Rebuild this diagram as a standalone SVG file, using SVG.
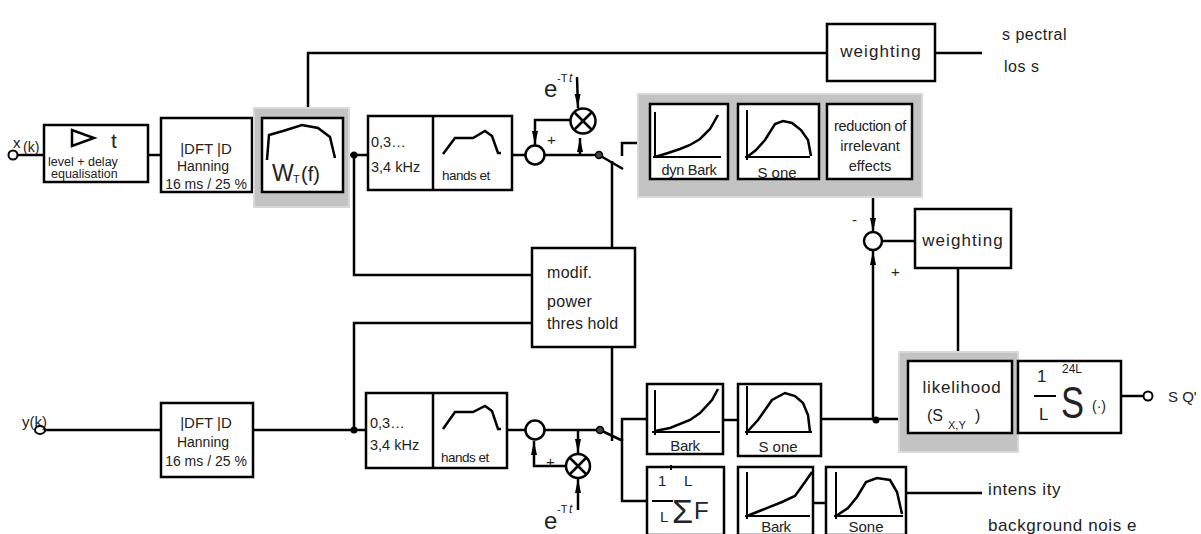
<svg xmlns="http://www.w3.org/2000/svg" width="1201" height="534" viewBox="0 0 1201 534" font-size="13">
<style>
.b{fill:#fff;stroke:#000;stroke-width:2.5}
.l{fill:none;stroke:#000;stroke-width:2.5}
.c{fill:none;stroke:#000;stroke-width:2}
.g{fill:#c3c3c3;stroke:#d8d8d8;stroke-width:2}
text{font-family:"Liberation Sans",Arial,sans-serif;fill:#222}
.m{text-anchor:middle}
.w{font-size:17px;letter-spacing:1.1px}
</style>
<defs>
<marker id="ar" markerUnits="userSpaceOnUse" markerWidth="15" markerHeight="8" refX="14" refY="4" orient="auto">
<path d="M0,1 L14,4 L0,7 z" fill="#000"/>
</marker>
</defs>
<rect width="1201" height="534" fill="#fff"/>

<g id="connectors">
<line class="l" x1="18" y1="155" x2="44" y2="155"/>
<line class="l" x1="148" y1="155" x2="161" y2="155"/>
<line class="l" x1="252" y1="155" x2="262" y2="155"/>
<line class="l" x1="343" y1="155" x2="368" y2="155"/>
<polyline class="l" points="308,118 308,53 827,53"/>
<line class="l" x1="935" y1="53" x2="982" y2="53"/>
<polyline class="l" points="354,155 354,275 532,275"/>
<line class="l" x1="512" y1="155" x2="525" y2="155"/>
<line class="l" x1="545" y1="155" x2="599" y2="155"/>
<line class="l" x1="577" y1="77" x2="578" y2="108" marker-end="url(#ar)"/>
<polyline class="l" points="570,120 535,120 535,145" marker-end="url(#ar)"/>
<line class="l" x1="580" y1="155" x2="580" y2="138" marker-end="url(#ar)"/>
<line class="l" x1="599" y1="155" x2="623" y2="169"/>
<line class="l" x1="612" y1="161" x2="612" y2="248"/>
<polyline class="l" points="622,156 622,143 650,143"/>
<line class="l" x1="728" y1="142" x2="738" y2="142"/>
<line class="l" x1="819" y1="142" x2="827" y2="142"/>
<line class="l" x1="873" y1="179" x2="873" y2="232" marker-end="url(#ar)"/>
<line class="l" x1="882" y1="241" x2="915" y2="241"/>
<line class="l" x1="958" y1="268" x2="958" y2="361"/>
<line class="l" x1="45" y1="430" x2="161" y2="430"/>
<line class="l" x1="253" y1="430" x2="366" y2="430"/>
<polyline class="l" points="354,430 354,323 532,323"/>
<line class="l" x1="507" y1="430" x2="525" y2="430"/>
<line class="l" x1="545" y1="430" x2="600" y2="430"/>
<line class="l" x1="578" y1="431" x2="578" y2="453" marker-end="url(#ar)"/>
<polyline class="l" points="566,466 534,466 534,441" marker-end="url(#ar)"/>
<line class="l" x1="578" y1="510" x2="578" y2="479" marker-end="url(#ar)"/>
<line class="l" x1="600" y1="430" x2="623" y2="441"/>
<line class="l" x1="612" y1="347" x2="612" y2="441"/>
<polyline class="l" points="647,419 622,419 622,501 647,501"/>
<line class="l" x1="723" y1="420" x2="738" y2="420"/>
<line class="l" x1="821" y1="419" x2="908" y2="419"/>
<line class="l" x1="873" y1="419" x2="873" y2="251" marker-end="url(#ar)"/>
<line class="l" x1="813" y1="503" x2="826" y2="503"/>
<line class="l" x1="906" y1="493" x2="982" y2="493"/>
<line class="l" x1="1121" y1="396" x2="1144" y2="396"/>
<line class="l" x1="1012" y1="396" x2="1018" y2="396"/>
<circle cx="354" cy="155" r="3.5" fill="#000"/>
<circle cx="354" cy="430" r="3.5" fill="#000"/>
<circle cx="876" cy="420" r="3.5" fill="#000"/>
<circle cx="599" cy="155" r="3.5" fill="#444" stroke="#000" stroke-width="1.5"/>
<circle cx="600" cy="430" r="3.5" fill="#444" stroke="#000" stroke-width="1.5"/>
</g>

<g id="inputs">
<text x="13" y="148" font-size="15">x</text>
<text x="23" y="152" font-size="14">(k)</text>
<circle class="c" cx="13" cy="155" r="4.5"/>
<text x="22" y="427" font-size="15">y(k)</text>
<ellipse class="c" cx="40" cy="430" rx="5" ry="4"/>
</g>

<g id="level-delay">
<rect class="b" x="44" y="125" width="104" height="57"/>
<polygon class="l" points="72,130 72,146 94,138"/>
<text x="111" y="148" font-size="21">t</text>
<text x="48" y="166" font-size="12.5">level + delay</text>
<text x="51" y="178" font-size="12.5">equalisation</text>
</g>

<g id="dft-top">
<rect class="b" x="161" y="118" width="91" height="74"/>
<text class="m" x="206" y="154" font-size="15">|DFT |D</text>
<text class="m" x="203" y="171" font-size="14">Hanning</text>
<text class="m" x="206" y="189" font-size="14">16 ms / 25 %</text>
</g>

<g id="wt">
<rect class="g" x="254" y="108" width="95" height="99"/>
<rect class="b" x="262" y="118" width="81" height="74"/>
<polyline class="l" points="267,160 269,135 283,131 302,125 318,128 330,137 335,158"/>
<text x="272" y="181" font-size="23">W</text>
<text x="293" y="183" font-size="11">T</text>
<text x="301" y="181" font-size="20">(f)</text>
</g>

<g id="bandpass-top">
<rect class="b" x="368" y="116" width="144" height="74"/>
<line class="l" x1="433" y1="116" x2="433" y2="190"/>
<text x="371" y="147" font-size="14.5">0,3…</text>
<text x="371" y="172" font-size="14.5">3,4 kHz</text>
<polyline class="l" points="443,154 455,138 473,138 485,131 492,136 498,153 501,153"/>
<text x="442" y="180" font-size="13.5" letter-spacing="-0.5">hands et</text>
</g>

<g id="sum-top">
<circle class="l" cx="535" cy="155" r="9.5"/>
<text x="547" y="145" font-size="15">+</text>
</g>

<g id="mult-top">
<circle class="l" cx="583" cy="121" r="12.5"/>
<line class="l" x1="574" y1="112" x2="592" y2="130"/>
<line class="l" x1="592" y1="112" x2="574" y2="130"/>
<text x="544" y="97" font-size="24">e</text>
<text x="557" y="82" font-size="11">-T</text>
<text x="569" y="82" font-size="12" font-style="italic">t</text>
</g>

<g id="psycho-top">
<rect class="g" x="638" y="94" width="284" height="103"/>
<rect class="b" x="650" y="104" width="78" height="75"/>
<polyline class="c" points="655,112 655,158"/>
<polyline class="c" points="653,157 721,157"/>
<polyline class="l" points="655,157 668,153 680,149 690,145 700,139 710,129 718,115"/>
<text class="m" x="689" y="175" font-size="14.5" letter-spacing="-0.3">dyn Bark</text>
<rect class="b" x="738" y="104" width="81" height="75"/>
<polyline class="c" points="747,110 747,160"/>
<polyline class="c" points="745,157 810,157"/>
<polyline class="l" points="747,157 756,150 765,140 775,124 783,121 792,123 801,130 808,140 811,156"/>
<text class="m" x="777" y="178" font-size="15">S one</text>
<rect class="b" x="827" y="104" width="85" height="75"/>
<text class="m" x="870" y="131" font-size="14.5" letter-spacing="-0.3">reduction of</text>
<text class="m" x="870" y="151" font-size="14.5">irrelevant</text>
<text class="m" x="870" y="171" font-size="14.5">effects</text>
</g>

<g id="weighting-top">
<rect class="b" x="827" y="24" width="108" height="57"/>
<text class="m w" x="881" y="57">weighting</text>
<text x="1002" y="40" font-size="16" letter-spacing="0.5">s pectral</text>
<text x="1004" y="72" font-size="16" letter-spacing="0.5">los s</text>
</g>

<g id="modif">
<rect class="b" x="532" y="248" width="103" height="99"/>
<text x="547" y="278" font-size="16" letter-spacing="0.3">modif.</text>
<text x="547" y="307" font-size="16" letter-spacing="0.3">power</text>
<text x="547" y="329" font-size="16" letter-spacing="0.1">thres hold</text>
</g>

<g id="diff">
<circle class="l" cx="873" cy="241" r="9"/>
<text x="852" y="225" font-size="15">-</text>
<text x="891" y="277" font-size="15">+</text>
</g>

<g id="weighting-mid">
<rect class="b" x="915" y="209" width="96" height="59"/>
<text class="m w" x="963" y="246">weighting</text>
</g>

<g id="dft-bottom">
<rect class="b" x="161" y="403" width="92" height="74"/>
<text class="m" x="206" y="428" font-size="15">|DFT |D</text>
<text class="m" x="203" y="447" font-size="14">Hanning</text>
<text class="m" x="206" y="466" font-size="14">16 ms / 25 %</text>
</g>

<g id="bandpass-bottom">
<rect class="b" x="366" y="393" width="141" height="75"/>
<line class="l" x1="433" y1="393" x2="433" y2="468"/>
<text x="370" y="428" font-size="14.5">0,3…</text>
<text x="370" y="450" font-size="14.5">3,4 kHz</text>
<polyline class="l" points="443,429 455,412 473,412 485,406 492,411 498,429 501,429"/>
<text x="441" y="462" font-size="13.5" letter-spacing="-0.5">hands et</text>
</g>

<g id="sum-bottom">
<circle class="l" cx="535" cy="430" r="9.5"/>
<text x="546" y="467" font-size="15">+</text>
</g>

<g id="mult-bottom">
<circle class="l" cx="578" cy="466" r="12"/>
<line class="l" x1="569.5" y1="457.5" x2="586.5" y2="474.5"/>
<line class="l" x1="586.5" y1="457.5" x2="569.5" y2="474.5"/>
<text x="544" y="529" font-size="24">e</text>
<text x="557" y="513" font-size="11">-T</text>
<text x="569" y="513" font-size="12" font-style="italic">t</text>
</g>

<g id="bark-bottom">
<rect class="b" x="647" y="384" width="76" height="70"/>
<polyline class="c" points="655,390 655,435"/>
<polyline class="c" points="652,432 720,432"/>
<polyline class="l" points="655,431 670,428 690,420 700,413 712,400 718,389"/>
<text class="m" x="685" y="451" font-size="15" letter-spacing="-0.3">Bark</text>
</g>

<g id="sone-bottom">
<rect class="b" x="738" y="384" width="83" height="72"/>
<polyline class="c" points="747,386 747,435"/>
<polyline class="c" points="745,432 812,432"/>
<polyline class="l" points="747,432 758,420 765,410 772,400 785,393 795,396 803,403 808,415 810,432"/>
<text class="m" x="778" y="452" font-size="15">S one</text>
</g>

<g id="noise-sum">
<rect class="b" x="647" y="467" width="77" height="68"/>
<line x1="671" y1="465" x2="671" y2="470" stroke="#000" stroke-width="2"/>
<text x="658" y="486" font-size="15">1</text>
<text x="684" y="486" font-size="15">L</text>
<line class="c" x1="652" y1="501" x2="673" y2="501"/>
<text x="660" y="522" font-size="15">L</text>
<text x="672" y="523" font-size="34">Σ</text>
<text x="694" y="519" font-size="24">F</text>
</g>

<g id="bark-noise">
<rect class="b" x="738" y="467" width="75" height="68"/>
<polyline class="c" points="747,472 747,519"/>
<polyline class="c" points="745,516 810,516"/>
<polyline class="l" points="747,516 762,510 782,502 795,496 805,482 812,472"/>
<text class="m" x="776" y="532" font-size="15" letter-spacing="-0.3">Bark</text>
</g>

<g id="sone-noise">
<rect class="b" x="826" y="467" width="80" height="68"/>
<polyline class="c" points="836,472 836,519"/>
<polyline class="c" points="834,516 903,516"/>
<polyline class="l" points="836,516 848,508 857,497 866,482 877,478 890,480 897,492 902,514"/>
<text class="m" x="866" y="532" font-size="15">Sone</text>
<text x="988" y="495" font-size="17" letter-spacing="0.6">intens ity</text>
<text x="988" y="531" font-size="17" letter-spacing="0.6">background nois e</text>
</g>

<g id="likelihood">
<rect class="g" x="899" y="352" width="119" height="100"/>
<rect class="b" x="908" y="361" width="104" height="72"/>
<text class="m" x="962" y="393" font-size="17" letter-spacing="0.8">likelihood</text>
<text x="927" y="421" font-size="16">(S</text>
<text x="948" y="429" font-size="11">X,Y</text>
<text x="975" y="421" font-size="16">)</text>
</g>

<g id="mean">
<rect class="b" x="1018" y="361" width="103" height="72"/>
<text x="1037" y="382" font-size="17">1</text>
<line class="c" x1="1034" y1="396" x2="1056" y2="396"/>
<text x="1039" y="420" font-size="17">L</text>
<text x="1061" y="418" font-size="44" textLength="23" lengthAdjust="spacingAndGlyphs">S</text>
<text x="1062" y="373" font-size="12">24L</text>
<text x="1092" y="411" font-size="14">(·)</text>
<circle class="c" cx="1148" cy="396" r="4.5"/>
<text x="1168" y="402" font-size="15">S Q'</text>
</g>
</svg>
